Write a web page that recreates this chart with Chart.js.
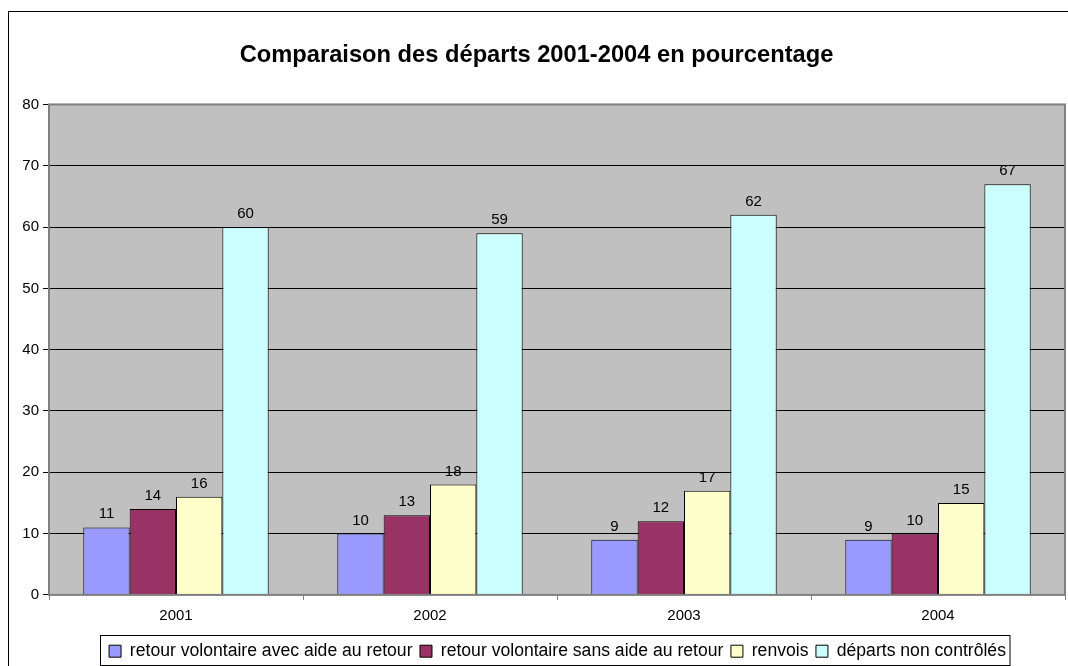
<!DOCTYPE html>
<html>
<head>
<meta charset="utf-8">
<script src="https://cdn.jsdelivr.net/npm/chart.js@4"></script>
<style>
  html, body { margin: 0; padding: 0; background: #fff; }
  #wrap { width: 1068px; height: 666px; }
</style>
</head>
<body>
<div id="wrap"><canvas id="myChart" width="1068" height="666"></canvas></div>
<script>
const years = ['2001', '2002', '2003', '2004'];
const avecAide = [11, 10, 9, 9];
const sansAide = [14, 13, 12, 10];
const renvois = [16, 18, 17, 15];
const nonControles = [60, 59, 62, 67];
const yTicks = [0, 10, 20, 30, 40, 50, 60, 70, 80];

const FONT = 'Arial, "Liberation Sans", sans-serif';

const frameAndLabels = {
    id: 'frameAndLabels',
    afterLayout(chart) {
        // centre the legend under the plot area, as in the original
        const lg = chart.legend;
        const a = chart.chartArea;
        const shift = Math.round((a.left + a.right) / 2 - (lg.left + lg.right) / 2);
        lg.left += shift;
        lg.right += shift;
        lg.legendHitBoxes.forEach(h => { h.left += shift; });
    },
    beforeDraw(chart) {
        const c = chart.ctx;
        c.save();
        c.fillStyle = '#fff';
        c.fillRect(0, 0, chart.width, chart.height);
        c.strokeStyle = '#000';
        c.lineWidth = 1;
        c.strokeRect(8.5, 11.5, 1100, 700);
        const a = chart.chartArea;
        c.fillStyle = '#c0c0c0';
        c.fillRect(a.left, a.top, a.right - a.left, a.bottom - a.top);
        c.restore();
    },
    afterDatasetsDraw(chart) {
        const c = chart.ctx;
        c.save();
        c.font = '15px ' + FONT;
        c.fillStyle = '#000';
        c.textAlign = 'center';
        c.textBaseline = 'alphabetic';
        chart.data.datasets.forEach((ds, i) => {
            chart.getDatasetMeta(i).data.forEach((bar, j) => {
                c.fillText(ds.data[j], bar.x, bar.y - 9);
            });
        });
        // plot border
        const a = chart.chartArea;
        c.strokeStyle = '#808080';
        c.lineWidth = 2;
        c.strokeRect(a.left, a.top, a.right - a.left, a.bottom - a.top);
        c.restore();
    },
    afterDraw(chart) {
        const lg = chart.legend;
        if (!lg || !lg.legendHitBoxes.length) return;
        const hb = lg.legendHitBoxes;
        let l = Infinity, r = -Infinity, t = Infinity;
        hb.forEach(h => {
            l = Math.min(l, h.left); r = Math.max(r, h.left + h.width);
            t = Math.min(t, h.top);
        });
        const c = chart.ctx;
        c.save();
        c.strokeStyle = '#000';
        c.lineWidth = 1;
        const x0 = Math.round(l - 9) + 0.5, y0 = Math.round(t - 7) + 0.5;
        c.strokeRect(x0, y0, Math.round(r + 4) - x0, 665.5 - y0);
        c.restore();
    }
};

function ds(label, data, color) {
    return {
        label: label,
        data: data,
        backgroundColor: color,
        borderColor: '#000',
        borderWidth: 1,
        categoryPercentage: 0.73,
        barPercentage: 1.0
    };
}

const ctx = document.getElementById('myChart').getContext('2d');
new Chart(ctx, {
    type: 'bar',
    data: {
        labels: years,
        datasets: [
            ds('retour volontaire avec aide au retour', avecAide, '#9999ff'),
            ds('retour volontaire sans aide au retour', sansAide, '#993366'),
            ds('renvois', renvois, '#ffffcc'),
            ds('départs non contrôlés', nonControles, '#ccffff')
        ]
    },
    options: {
        responsive: false,
        animation: false,
        devicePixelRatio: 1,
        layout: { padding: { left: 8, right: 3, top: 0, bottom: -4 } },
        scales: {
            y: {
                min: 0,
                max: 80,
                afterBuildTicks: s => { s.ticks = yTicks.map(v => ({ value: v })); },
                afterFit: s => { s.width = 41; },
                border: { display: false },
                grid: { color: '#000', lineWidth: 1, tickLength: 6, tickColor: '#000' },
                ticks: { color: '#000', font: { family: FONT, size: 15 }, padding: 4 }
            },
            x: {
                afterFit: s => { s.height = 40; },
                border: { display: false },
                grid: { offset: true, drawOnChartArea: false, tickLength: 5, color: '#808080' },
                ticks: { color: '#000', font: { family: FONT, size: 15 }, padding: 7 }
            }
        },
        plugins: {
            title: {
                display: true,
                text: 'Comparaison des départs 2001-2004 en pourcentage',
                color: '#000',
                font: { family: FONT, size: 23.7, weight: 'bold' },
                padding: { top: 41, bottom: 35 }
            },
            legend: {
                position: 'bottom',
                labels: {
                    color: '#000',
                    font: { family: FONT, size: 17.6 },
                    boxWidth: 12,
                    boxHeight: 12,
                    padding: 7.5
                }
            },
            tooltip: { enabled: false }
        }
    },
    plugins: [frameAndLabels]
});
</script>
</body>
</html>
